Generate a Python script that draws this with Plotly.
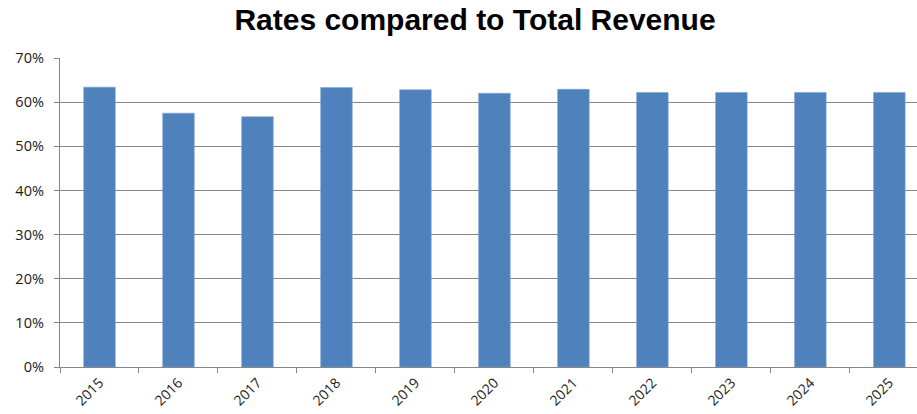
import plotly.graph_objects as go

# Share of total revenue coming from rates, by year
years = ["2015", "2016", "2017", "2018", "2019", "2020",
         "2021", "2022", "2023", "2024", "2025"]
rate_share = [0.634, 0.575, 0.567, 0.633, 0.628, 0.620,
              0.629, 0.622, 0.622, 0.622, 0.622]

y_ticks = [0, 0.1, 0.2, 0.3, 0.4, 0.5, 0.6, 0.7]
y_tick_labels = ["0%", "10%", "20%", "30%", "40%", "50%", "60%", "70%"]

bar_color = "#4F81BD"
axis_gray = "#868686"
label_font = dict(family="Open Sans, Liberation Sans, sans-serif", size=14.5, color="#1a1a1a")
xlabel_font = dict(family="Open Sans, Liberation Sans, sans-serif", size=14, color="#1a1a1a")

fig = go.Figure(
    go.Bar(
        x=years,
        y=rate_share,
        marker=dict(color=bar_color, line=dict(color="#7FA3D0", width=0.6)),
    )
)

fig.update_layout(
    width=917,
    height=414,
    margin=dict(l=60, r=0, t=58, b=47),
    paper_bgcolor="white",
    plot_bgcolor="white",
    bargap=0.6,
    showlegend=False,
    font=label_font,
    title=dict(
        text="<b>Rates compared to Total Revenue</b>",
        font=dict(family="Liberation Sans, Arial, sans-serif", size=30, color="black"),
        x=0.518,
        xanchor="center",
        y=0.952,
        yanchor="middle",
    ),
)

fig.update_xaxes(
    type="category",
    range=[-0.5, 10.35],
    automargin=False,
    showgrid=False,
    showline=True,
    linecolor=axis_gray,
    linewidth=1.3,
    ticks="outside",
    tickson="boundaries",
    ticklen=5,
    tickcolor=axis_gray,
    tickangle=-45,
    tickfont=xlabel_font,
    ticklabelstandoff=1,
)

fig.update_yaxes(
    range=[0, 0.7],
    automargin=False,
    tickvals=y_ticks,
    ticktext=y_tick_labels,
    showgrid=True,
    gridcolor=axis_gray,
    gridwidth=1,
    showline=True,
    linecolor=axis_gray,
    linewidth=1.3,
    ticks="outside",
    ticklen=5,
    tickcolor=axis_gray,
    tickfont=label_font,
    ticklabelstandoff=7,
    zeroline=False,
)

fig.write_html("out.html")
